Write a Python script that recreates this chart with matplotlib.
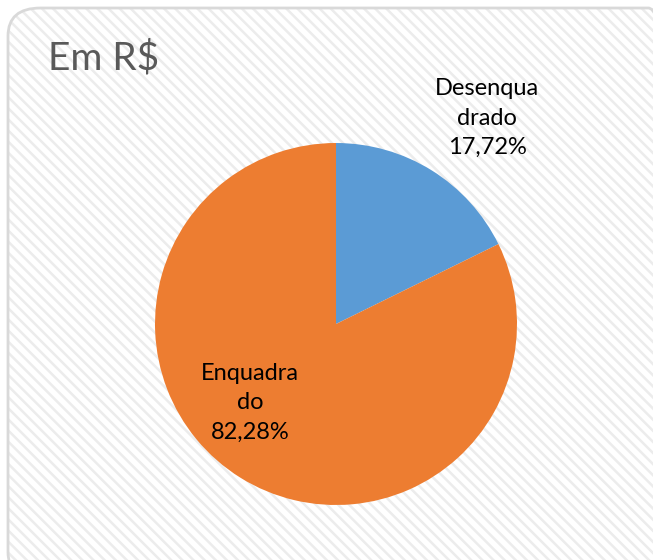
import matplotlib.pyplot as plt
from matplotlib.patches import FancyBboxPatch

# data
categories = ["Desenquadrado", "Enquadrado"]
shares = [17.72, 82.28]
label_text = ["Desenqua\ndrado\n17,72%", "Enquadra\ndo\n82,28%"]
colors = ["#5B9BD5", "#ED7D31"]

plt.rcParams['font.family'] = ['Lato', 'DejaVu Sans']
plt.rcParams['hatch.linewidth'] = 1.8

W, H = 653, 560
fig = plt.figure(figsize=(W / 100, H / 100), dpi=100)
fig.patch.set_facecolor("white")

# chart area background with diagonal stripes
bg = FancyBboxPatch((8 / W, -20 / H), (W + 20) / W, (H - 8 + 20) / H,
                    boxstyle="round,pad=0,rounding_size=0.05",
                    transform=fig.transFigure, facecolor="white",
                    edgecolor="#ececec", hatch="\\\\\\", linewidth=0,
                    zorder=-2)
fig.patches.append(bg)
border = FancyBboxPatch((8 / W, -20 / H), (W + 20) / W, (H - 8 + 20) / H,
                        boxstyle="round,pad=0,rounding_size=0.05",
                        transform=fig.transFigure, facecolor="none",
                        edgecolor="#d9d9d9", linewidth=2, zorder=-1)
fig.patches.append(border)

ax = fig.add_axes([155 / W, 55 / H, 362 / W, 362 / H])
ax.pie(shares, colors=colors, startangle=90, counterclock=False,
       radius=1, wedgeprops=dict(linewidth=0))
ax.set_xlim(-1, 1)
ax.set_ylim(-1, 1)
ax.set_aspect("equal")
ax.axis("off")

label_pos = [(0.834, 1.138), (-0.475, -0.436)]
for (x, y), t in zip(label_pos, label_text):
    ax.text(x, y, t, ha="center", va="center", fontsize=17,
            color="black", linespacing=1.5, clip_on=False)

fig.text(48 / W, 1 - 58 / H, "Em R$", ha="left", va="center",
         fontsize=28, color="#595959")

fig.savefig("out.png", dpi=100)
